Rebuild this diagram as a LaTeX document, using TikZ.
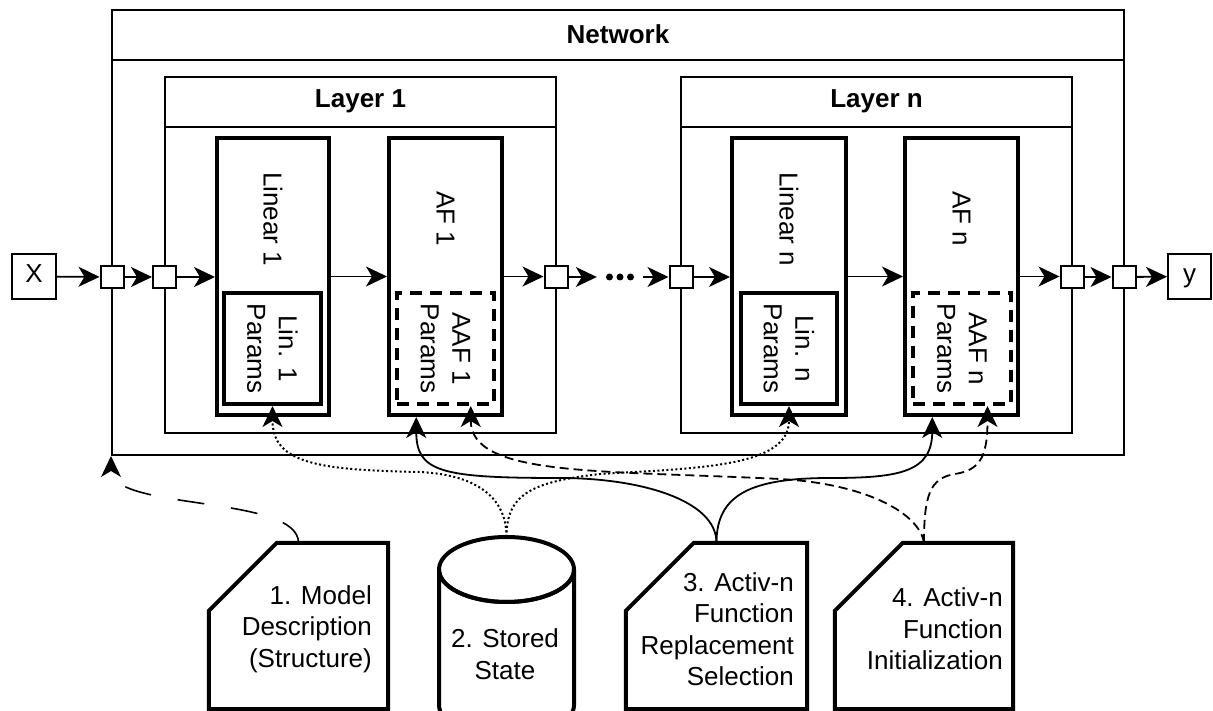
\documentclass[tikz,border=0pt]{standalone}
\usepackage{fontspec}
\setmainfont{Liberation Sans}
\usetikzlibrary{arrows.meta,calc}

\begin{document}
\begin{tikzpicture}[x=1pt,y=-1pt,
  font=\fontsize{26pt}{31.5pt}\selectfont,
  frame/.style={draw, line width=2pt, inner sep=0pt},
  block/.style={draw, line width=4pt, inner sep=0pt},
  dblock/.style={block, dash pattern=on 12pt off 8pt},
  port/.style={draw, fill=white, line width=2pt, minimum width=23pt, minimum height=22pt, inner sep=0pt},
  io/.style={draw, fill=white, line width=2pt, inner sep=0pt, minimum width=44pt, minimum height=45pt},
  title/.style={font=\fontsize{26pt}{31.5pt}\selectfont\bfseries},
  vtext/.style={rotate=-90, align=center, inner sep=0pt},
  head/.style={-{Stealth[length=21pt,width=20pt,inset=6pt]}},
  flow/.style={head, line width=1.8pt},
  solidlink/.style={head, line width=1.8pt},
  dottedlink/.style={head, line width=2pt, dash pattern=on 2pt off 2.5pt},
  dashedlink/.style={head, line width=1.8pt, dash pattern=on 9pt off 5pt},
  longdash/.style={head, line width=1.6pt, dash pattern=on 27pt off 27pt},
  card/.style={line width=4pt, fill=white},
  ghost/.style={inner sep=0pt}
]
\useasboundingbox (0,0) rectangle (1213,711);

% Network container
\node[frame, minimum width=1012pt, minimum height=445pt] (net) at (618,232.5) {};
\draw[line width=2pt] ($(net.north west)+(0,51)$) -- ($(net.north east)+(0,51)$);
\node[title] (nettitle) at ($(net.north)+(0,25.5)$) {Network};

% Layer containers
\node[frame, minimum width=391pt, minimum height=356pt] (layer1) at (360.5,255) {};
\draw[line width=2pt] ($(layer1.north west)+(0,51)$) -- ($(layer1.north east)+(0,51)$);
\node[title] (l1title) at ($(layer1.north)+(0,25.5)$) {Layer 1};

\node[frame, minimum width=391pt, minimum height=356pt] (layern) at (876.5,255) {};
\draw[line width=2pt] ($(layern.north west)+(0,51)$) -- ($(layern.north east)+(0,51)$);
\node[title] (lntitle) at ($(layern.north)+(0,25.5)$) {Layer n};

% Modules of layer 1
\node[block, minimum width=112pt, minimum height=277pt] (lin1) at (273,276.5) {};
\node[block, minimum width=97pt, minimum height=111pt] (lin1p) at (272.5,348.5) {};
\node[block, minimum width=113pt, minimum height=277pt] (af1) at (445.5,276.5) {};
\node[dblock, minimum width=97pt, minimum height=111pt] (af1p) at (445.5,348.5) {};
\node[vtext] (lin1txt) at (273,219) {Linear 1};
\node[vtext] (lin1ptxt) at (272.5,348.5) {Lin. 1\\Params};
\node[vtext] (af1txt) at (445.5,219) {AF 1};
\node[vtext] (af1ptxt) at (445.5,348.5) {AAF 1\\Params};

% Modules of layer n
\node[block, minimum width=114pt, minimum height=277pt] (linn) at (789,276.5) {};
\node[block, minimum width=96pt, minimum height=111pt] (linnp) at (789,348.5) {};
\node[block, minimum width=113pt, minimum height=277pt] (afn) at (961.5,276.5) {};
\node[dblock, minimum width=98pt, minimum height=111pt] (afnp) at (962,348.5) {};
\node[vtext] (linntxt) at (789,219) {Linear n};
\node[vtext] (linnptxt) at (789,348.5) {Lin. n\\Params};
\node[vtext] (afntxt) at (961.5,219) {AF n};
\node[vtext] (afnptxt) at (962,348.5) {AAF n\\Params};

% Input, output and ports
\node[io] (X) at (34,276.5) {\strut X};
\node[io, minimum width=43pt] (yout) at (1189.5,276.5) {\strut y};
\node[port] (p1) at (112,277) {};
\node[port] (p2) at (164.5,277) {};
\node[port] (p3) at (556,277) {};
\node[port] (p4) at (681,277) {};
\node[port] (p5) at (1072,277) {};
\node[port] (p6) at (1124,277) {};
\node[ghost, minimum width=46pt, minimum height=8pt] (dots) at (620,277) {};
\foreach \dx in {-10.5,0,10.5}
  \fill ($(dots.center)+(\dx,0)$) circle[radius=3.5];

% Data flow
\draw[flow] (X) -- (p1);
\draw[flow] (p1) -- (p2);
\draw[flow] (p2.east) -- (p2.east -| lin1.west);
\draw[flow] (lin1.east) -- (lin1.east -| af1.west);
\draw[flow] (af1.east) -- (af1.east -| p3.west);
\draw[flow] (p3) -- (dots);
\draw[flow] (dots) -- (p4);
\draw[flow] (p4.east) -- (p4.east -| linn.west);
\draw[flow] (linn.east) -- (linn.east -| afn.west);
\draw[flow] (afn.east) -- (afn.east -| p5.west);
\draw[flow] (p5) -- (p6);
\draw[flow] (p6) -- (yout);

% Sources at the bottom
\node[ghost, minimum width=179pt, minimum height=166pt] (doc1) at (298.5,626) {};
\node[ghost, minimum width=135pt, minimum height=174pt] (store) at (506.5,624) {};
\node[ghost, minimum width=181pt, minimum height=166pt] (doc3) at (716.5,626) {};
\node[ghost, minimum width=178pt, minimum height=166pt] (doc4) at (924,626) {};

\foreach \d in {doc1,doc3,doc4}
  \draw[card] ($(\d.north west)+(0,68)$) -- ($(\d.north west)+(68,0)$) -- (\d.north east)
    -- (\d.south east) -- (\d.south west) -- cycle;

% Stored state cylinder
\draw[card] (439,569.5) -- (439,705) arc[start angle=180, end angle=0, x radius=67.5, y radius=32.5]
  -- (574,569.5) arc[start angle=0, end angle=180, x radius=67.5, y radius=32.5] -- cycle;
\draw[line width=4pt] (506.5,569.5) ellipse[x radius=67.5, y radius=32.5];

\node[align=right, anchor=east, inner sep=0pt] (doc1txt) at (372,629) {1. Model\\Description\\(Structure)};
\node[align=center, inner sep=0pt] (storetxt) at (505,654) {2. Stored\\State};
\node[align=right, anchor=east, inner sep=0pt] (doc3txt) at (794,629) {3. Activ-n\\Function\\Replacement\\Selection};
\node[align=right, anchor=east, inner sep=0pt] (doc4txt) at (1003,629) {4. Activ-n\\Function\\Initialization};

% Entry points on the module bottoms
\coordinate (af1in) at ($(af1.south west)!0.25!(af1.south east)$);
\coordinate (afnin) at ($(afn.south west)!0.25!(afn.south east)$);
\coordinate (af1pin) at ($(af1p.south west)!0.75!(af1p.south east)$);
\coordinate (afnpin) at ($(afnp.south west)!0.75!(afnp.south east)$);

% Model description -> network
\draw[longdash] (doc1.north) .. controls ($(doc1.north)+(0,-48)$) and ($(net.south west)+(0,55)$) .. (net.south west);

% Stored state -> linear parameters
\draw[dottedlink] (store.north) .. controls (506.5,500) and (480,475) .. (420,472)
  .. controls (320,470) and ($(lin1p.south)+(0,58)$) .. (lin1p.south);
\draw[dottedlink] (store.north) .. controls (506.5,495) and (530,482) .. (600,474)
  .. controls (700,468) and ($(linnp.south)+(0,61)$) .. (linnp.south);

% Replacement selection -> activation functions
\draw[solidlink] (doc3.north) .. controls (716.5,500) and (640,478) .. (560,478)
  .. controls (440,478) and ($(af1in)+(0,55)$) .. (af1in);
\draw[solidlink] (doc3.north) .. controls (716.5,495) and (750,478) .. (830,478)
  .. controls (900,478) and ($(afnin)+(0,55)$) .. (afnin);

% Initialization -> activation parameters
\draw[dashedlink] (doc4.north) .. controls (920,515) and (870,484) .. (780,479)
  .. controls (600,470) and ($(af1pin)+(0,71)$) .. (af1pin);
\draw[dashedlink] (doc4.north) .. controls (924,495) and (930,478) .. (955,474)
  .. controls (980,470) and ($(afnpin)+(0,51)$) .. (afnpin);

\end{tikzpicture}
\end{document}
